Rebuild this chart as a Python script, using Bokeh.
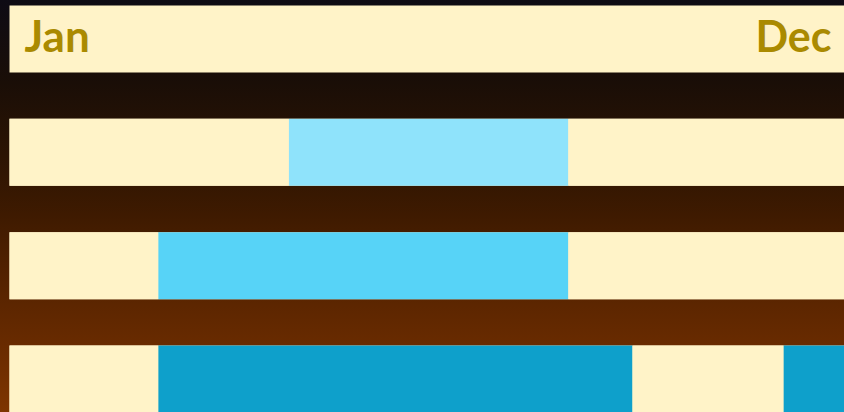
from bokeh.plotting import figure
from bokeh.models import Range1d, ColumnDataSource, GlobalInlineStyleSheet, InlineStyleSheet
from bokeh.core.properties import value
from bokeh.embed import file_html
from bokeh.resources import INLINE

# ---- data ----
header_labels = ["Jan", "Dec"]
year_start = 0      # day of year
year_end = 365

rows = [1, 2, 3]
seg_row = [1, 1, 1, 2, 2, 2, 3, 3, 3, 3]
seg_start = [0, 122, 244, 0, 65, 244, 0, 65, 272, 338]
seg_end = [122, 244, 365, 65, 244, 365, 65, 272, 338, 365]
seg_active = [False, True, False, False, True, False, False, True, False, True]

# ---- styles ----
CREAM = "#fff3c8"
ROW_ACTIVE_COLORS = {1: "#8fe3fb", 2: "#57d3f7", 3: "#0ea0cb"}
TEXT_COLOR = "#aa8a00"
BAR_H = 0.591

colors = [ROW_ACTIVE_COLORS[r] if a else CREAM for r, a in zip(seg_row, seg_active)]
src = ColumnDataSource(dict(row=seg_row, left=seg_start, right=seg_end, color=colors))

W, H = 844, 412
px_per_day = 836 / 365.0
x0 = -9 / px_per_day
x1 = x0 + W / px_per_day
period = 113.33
r_top = -38.5 / period
r_bot = r_top + H / period

p = figure(width=W, height=H, output_backend="svg", toolbar_location=None,
           x_range=Range1d(x0, x1), y_range=Range1d(r_bot, r_top),
           min_border=0, x_axis_type=None, y_axis_type=None)
p.grid.visible = False
p.outline_line_color = None
p.background_fill_alpha = 0
p.border_fill_alpha = 0

grad = "linear-gradient(to bottom, #0e0b14 0%, #1a0e07 20%, #2c1403 38%, #3e1a00 52%, #5a2500 72%, #6e2d00 88%, #7e3500 100%)"
p.stylesheets = [
    GlobalInlineStyleSheet(css="html, body { margin: 0 !important; padding: 0; overflow: hidden; background: " + grad + "; min-height: 100%; }"),
    InlineStyleSheet(css=":host { background: " + grad + "; }"),
]

# header bar
p.hbar(y=[0], left=[year_start], right=[year_end], height=BAR_H, color=CREAM, line_color=None)
p.text(x=[year_start], y=[0], text=[header_labels[0]], text_font=value("Lato"),
       text_font_style="bold", text_font_size="44px", text_color=TEXT_COLOR,
       text_align="left", text_baseline="alphabetic", x_offset=15, y_offset=-4)
p.text(x=[year_end], y=[0], text=[header_labels[1]], text_font=value("Lato"),
       text_font_style="bold", text_font_size="43px", text_color=TEXT_COLOR,
       text_align="right", text_baseline="alphabetic", x_offset=-14, y_offset=-4)

# row base (cream) then segments
p.hbar(y=rows, left=[year_start] * len(rows), right=[year_end] * len(rows),
       height=BAR_H, color=CREAM, line_color=None)
p.hbar(y="row", left="left", right="right", height=BAR_H, color="color",
       line_color=None, source=src)

open("out.html", "w").write(file_html(p, INLINE))
